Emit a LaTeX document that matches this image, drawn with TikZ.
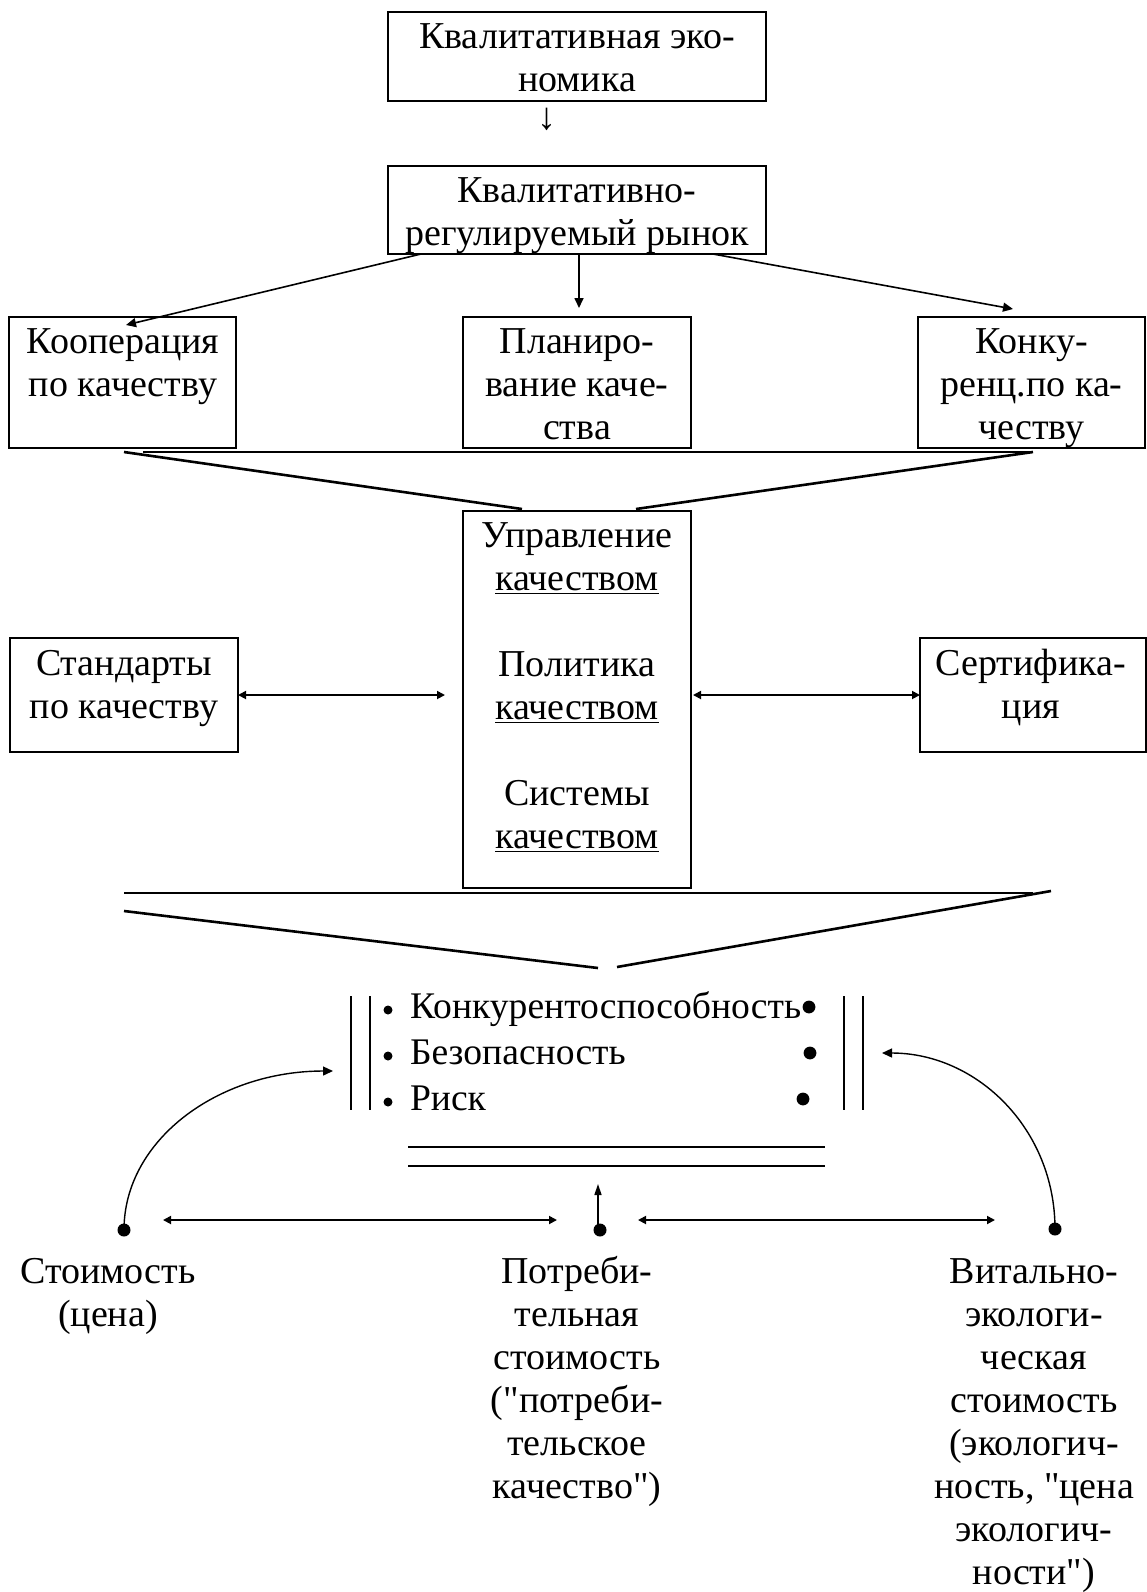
\documentclass[tikz,border=0pt]{standalone}
\usepackage{fontspec}
\setmainfont{Liberation Serif}
\usetikzlibrary{arrows.meta,calc}
\newcommand\fsz{\fontsize{19}{21.5}\selectfont}
\newcommand\fszl{\fontsize{18.8}{23}\selectfont}
\newcommand\qq{\textquotedbl}
\begin{document}
\begin{tikzpicture}[x=0.5pt,y=-0.5pt,
  box/.style={draw, line width=1pt, inner sep=0pt, outer sep=0pt},
  lbl/.style={align=center, inner sep=0pt, outer sep=0pt, anchor=north, font=\fsz},
  arr/.style={line width=0.8pt, -{Triangle[length=5pt,width=4.5pt]}},
  darr/.style={line width=0.9pt, {Triangle[length=4pt,width=4pt]}-{Triangle[length=4pt,width=4pt]}},
  funnel/.style={line width=1.3pt},
  bar/.style={line width=1pt},
  curv/.style={line width=0.7pt, -{Triangle[length=5pt,width=4.5pt]}},
  dot/.style={circle, fill, inner sep=0pt, minimum size=6.5pt},
]
\useasboundingbox (0,0) rectangle (1147,1592);

% boxes
\node[box, minimum width=189pt, minimum height=44.5pt] (b1) at (577,56.5) {};
\node[box, minimum width=189pt, minimum height=44pt] (b2) at (577,210) {};
\node[box, minimum width=113.5pt, minimum height=65.5pt] (b3) at (122.5,382.5) {};
\node[box, minimum width=114pt, minimum height=65.5pt] (b4) at (577,382.5) {};
\node[box, minimum width=113.5pt, minimum height=65.5pt] (b5) at (1031.5,382.5) {};
\node[box, minimum width=114pt, minimum height=188.5pt] (b6) at (577,699.5) {};
\node[box, minimum width=114pt, minimum height=57pt] (b7) at (124,695) {};
\node[box, minimum width=113pt, minimum height=57pt] (b8) at (1033,695) {};

% texts
\node[lbl] (t1) at (577,17.9) {\strut Квалитативная эко-\\\strut номика};
\node[font=\fsz, inner sep=0pt] (g1) at (547,119) {↓};
\node[lbl] (t2) at (577,171.9) {\strut Квалитативно-\\\strut регулируемый рынок};
\node[lbl] (t3) at (123,322.9) {\strut Кооперация\\\strut по качеству};
\node[lbl] (t4) at (577,322.9) {\strut Планиро-\\\strut вание каче-\\\strut ства};
\node[lbl] (t5) at (1031.5,322.9) {\strut Конку-\\\strut ренц.по ка-\\\strut честву};
\node[lbl] (t6) at (577,516.9) {\strut Управление\\\strut \underline{качеством}\\\strut\\\strut Политика\\\strut \underline{качеством}\\\strut\\\strut Системы\\\strut \underline{качеством}};
\node[lbl] (t7) at (124,644.9) {\strut Стандарты\\\strut по качеству};
\node[lbl] (t8) at (1031,644.9) {\strut Сертифика-\\\strut ция};

% arrows from the market box
\draw[arr] ([xshift=16.5pt]b2.south west) -- ([xshift=1.75pt,yshift=-4pt]b3.north);
\draw[arr] ([xshift=1pt]b2.south) -- ([xshift=1pt,yshift=4.5pt]b4.north);
\draw[arr] ([xshift=-26.5pt]b2.south east) -- ([xshift=-9.25pt,yshift=4pt]b5.north);

% upper funnel
\draw[funnel] (143,452) -- (1033,452);
\draw[funnel] (124,452) -- (522,509);
\draw[funnel] (1033,452) -- (636,509);

% side double arrows
\draw[darr] (b7.east) -- ($(b6.west |- b7.east)+(-18,0)$);
\draw[darr] ($(b6.east |- b8.west)+(2,0)$) -- (b8.west);

% lower funnel
\draw[funnel] (124,893) -- (1033,893);
\draw[funnel] (124,911) -- (598,968);
\draw[funnel] (1051,891) -- (617,967);

% list
\draw[bar] (351,996) -- (351,1110);
\draw[bar] (370,996) -- (370,1110);
\draw[bar] (844,996) -- (844,1110);
\draw[bar] (863,996) -- (863,1110);
\node[inner sep=0pt, outer sep=0pt, anchor=north west, align=left, font=\fszl] (lst) at (410,985.8)
  {\strut Конкурентоспособность\\\strut Безопасность\\\strut Риск};
\fill (388,1010) circle[radius=2.25pt];
\fill (388,1056) circle[radius=2.25pt];
\fill (388,1102) circle[radius=2.25pt];
\fill (809,1007) circle[radius=3.2pt];
\fill (810,1053) circle[radius=3.2pt];
\fill (803,1099) circle[radius=3.2pt];
\draw[bar, line width=1.2pt] (408,1147) -- (825,1147);
\draw[bar, line width=1.2pt] (408,1166) -- (825,1166);

% bottom dots and connectors
\node[dot] (d1) at (124,1230) {};
\node[dot] (d2) at (600,1230) {};
\node[dot] (d3) at (1055,1229) {};
\coordinate (a1) at (163,1220);
\coordinate (a2) at (557,1220);
\coordinate (a3) at (638,1220);
\coordinate (a4) at (995,1220);
\coordinate (up) at (598,1184);
\coordinate (tl) at (333,1071);
\coordinate (tr) at (882,1053);
\draw[darr] (a1) -- (a2);
\draw[darr] (a3) -- (a4);
\draw[line width=0.8pt, -{Triangle[length=5.5pt,width=3.5pt]}] (d2.center) ++(-2,0) -- (up);
\draw[curv] (d1.center) .. controls (124,1140) and (218,1071) .. (tl);
\draw[curv] (d3.center) .. controls (1055,1129) and (977,1053) .. (tr);

% bottom labels
\node[lbl] (l1) at (108,1252.9) {\strut Стоимость\\\strut (цена)};
\node[lbl] (l2) at (577,1252.9) {\strut Потреби-\\\strut тельная\\\strut стоимость\\\strut (\qq потреби-\\\strut тельское\\\strut качество\qq)};
\node[lbl] (l3) at (1034,1252.9) {\strut Витально-\\\strut экологи-\\\strut ческая\\\strut стоимость\\\strut (экологич-\\\strut ность, \qq цена\\\strut экологич-\\\strut ности\qq)};
\end{tikzpicture}
\end{document}
